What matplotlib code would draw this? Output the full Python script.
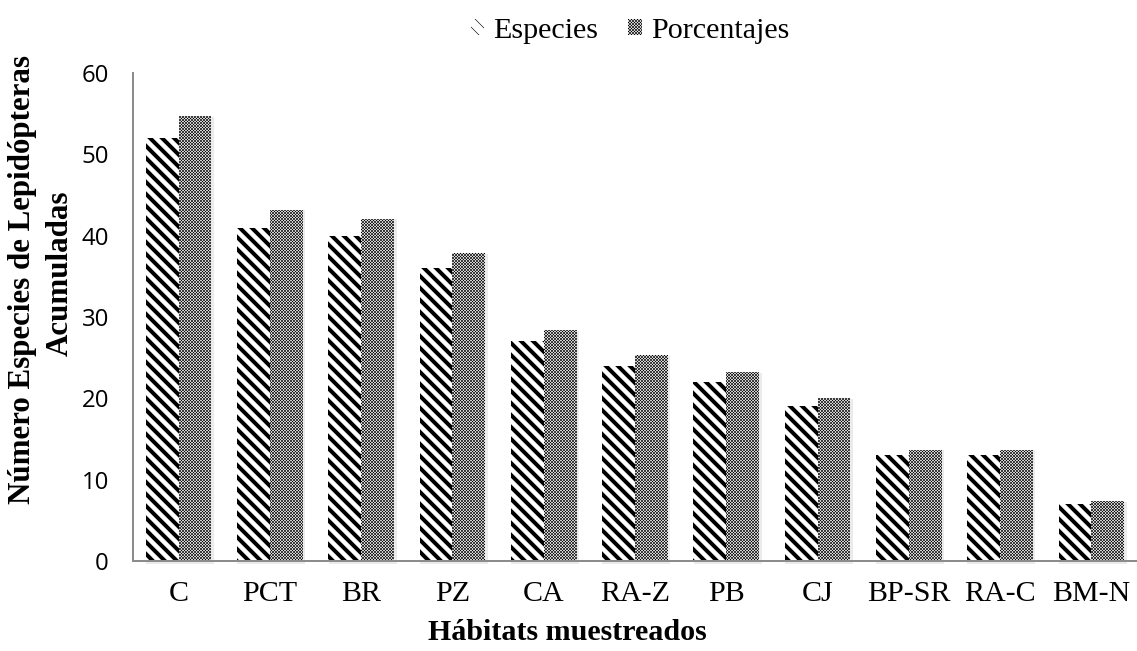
import numpy as np
import matplotlib
matplotlib.use("Agg")
import matplotlib.pyplot as plt

# data
habitats = ['C', 'PCT', 'BR', 'PZ', 'CA', 'RA-Z', 'PB', 'CJ', 'BP-SR', 'RA-C', 'BM-N']
especies = [52, 41, 40, 36, 27, 24, 22, 19, 13, 13, 7]
porcentajes = [54.7, 43.2, 42.1, 37.9, 28.4, 25.3, 23.2, 20.0, 13.7, 13.7, 7.4]
yticks = [0, 10, 20, 30, 40, 50, 60]

serif = 'Liberation Serif'
sans = 'Open Sans'

# dpi 72 -> font size in points equals pixels
fig = plt.figure(figsize=(1137 / 72, 651 / 72), dpi=72)
ax = fig.add_axes([133 / 1137, 90 / 651, 1 - 133 / 1137, 488 / 651])

x = np.arange(len(habitats))
w = 0.36

# soft shadow behind the bars
for off, vals in ((-w / 2, especies), (w / 2, porcentajes)):
    ax.bar(x + off + 0.015, np.array(vals) + 0.25, width=w + 0.025, bottom=-0.35,
           color='#ebebeb', linewidth=0, zorder=1, clip_on=False)

plt.rcParams['hatch.linewidth'] = 4.0
b1 = ax.bar(x - w / 2, especies, width=w, facecolor='white', edgecolor='black',
            linewidth=0, hatch='\\\\', zorder=2, label='Especies')
plt.rcParams['hatch.linewidth'] = 0.6
b2 = ax.bar(x + w / 2, porcentajes, width=w, facecolor='white', edgecolor='black',
            linewidth=0, hatch='xxxxxxxx', zorder=2, label='Porcentajes')
for p in b1:
    if hasattr(p, 'set_hatch_linewidth'):
        p.set_hatch_linewidth(4.0)
for p in b2:
    if hasattr(p, 'set_hatch_linewidth'):
        p.set_hatch_linewidth(0.6)

ax.set_xlim(-0.5, len(habitats) - 0.5)
ax.set_ylim(0, 60)
ax.set_yticks(yticks)
ax.set_yticklabels([str(t) for t in yticks], fontsize=24, family=sans)
ax.set_xticks(x)
ax.set_xticklabels(habitats, fontsize=30, family=serif)
ax.tick_params(axis='both', length=0)
ax.tick_params(axis='x', pad=20)
ax.tick_params(axis='y', pad=24)

for s in ['top', 'right']:
    ax.spines[s].set_visible(False)
for s in ['left', 'bottom']:
    ax.spines[s].set_color('#8c8c8c')
    ax.spines[s].set_linewidth(2)

fig.text(23 / 1137, 1 - 279 / 651, 'Número Especies de Lepidópteras', rotation=90,
         ha='center', va='center', fontsize=31, fontweight='bold', family=serif)
fig.text(60 / 1137, 1 - 273 / 651, 'Acumuladas', rotation=90,
         ha='center', va='center', fontsize=31, fontweight='bold', family=serif)
fig.text(567 / 1137, 1 - 633 / 651, 'Hábitats muestreados', ha='center', va='center',
         fontsize=30, fontweight='bold', family=serif)

fig.legend(handles=[b1, b2], loc='center', bbox_to_anchor=(630 / 1137, 1 - 31 / 651),
           ncol=2, frameon=False, prop={'family': serif, 'size': 30},
           handlelength=0.45, handleheight=0.45, handletextpad=0.3, columnspacing=1.0)

fig.savefig('out.png', dpi=72)
